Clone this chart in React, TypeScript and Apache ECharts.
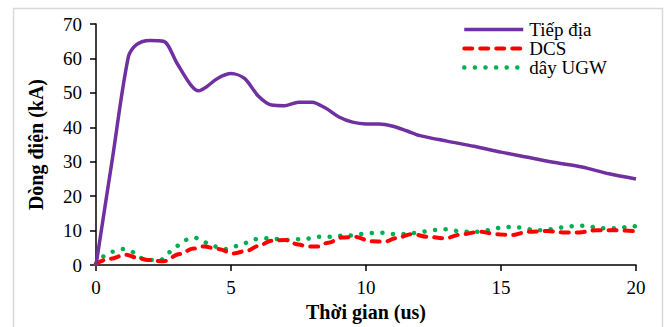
import React, { useEffect, useRef } from "react";
import * as echarts from "echarts";

const seriesNames = ["Tiếp địa", "DCS", "dây UGW"];
const xTicks = { min: 0, max: 20, interval: 5 };
const yTicks = { min: 0, max: 70, interval: 10 };

// [time (us), current (kA)]
const tiepDia: [number, number][] = [
  [0, 0], [0.6, 30.5], [1.2, 60.5], [1.5, 64], [2.0, 65.2], [2.5, 65],
  [3.0, 58.6], [3.5, 52.4], [3.8, 50.6], [4.1, 51.8], [4.5, 54.2], [5.0, 55.6],
  [5.5, 54.2], [6.0, 49.2], [6.5, 46.5], [7.0, 46.3], [7.5, 47.3], [8.0, 47.3],
  [8.5, 45.6], [9.0, 43.0], [9.5, 41.5], [10.0, 41.0], [10.5, 41.0], [11, 40.3],
  [11.5, 39.0], [12, 37.6], [13, 36], [14, 34.5], [15, 32.8], [16, 31.3],
  [17, 29.8], [18, 28.5], [19, 26.5], [20, 25],
];

const dcs: [number, number][] = [
  [0, 0.4], [0.5, 1.8], [1.1, 3.0], [1.5, 2.2], [1.9, 1.5], [2.5, 1.1], [3.1, 3.2],
  [3.6, 4.8], [4.0, 5.4], [4.5, 4.7], [5.1, 3.4], [5.6, 4.2], [6.0, 5.5], [6.5, 7.1],
  [7.0, 7.3], [7.5, 6.0], [7.8, 5.4], [8.2, 5.4], [8.6, 6.5], [9.1, 8.0], [9.6, 8.2],
  [10.2, 6.9], [10.7, 6.8], [11.1, 7.8], [11.7, 9.0], [12.3, 8.2], [12.9, 7.8],
  [13.6, 9.0], [14.2, 9.7], [14.8, 9.0], [15.4, 8.7], [16.0, 9.7], [16.7, 9.9],
  [17.3, 9.5], [17.9, 9.5], [18.5, 10.1], [19.3, 10.1], [20, 9.8],
];

const dayUgw: [number, number][] = [
  [0, 0.4], [0.25, 2.5], [0.6, 3.9], [1.0, 4.7], [1.3, 4.0], [1.6, 2.1], [1.95, 1.5],
  [2.4, 1.5], [2.7, 3.7], [3.0, 5.6], [3.3, 7.3], [3.65, 8.0], [4.0, 6.6], [4.4, 5.4],
  [4.75, 4.6], [5.1, 5.4], [5.5, 6.4], [5.85, 7.5], [6.2, 7.8], [6.7, 7.6], [7.05, 7.3],
  [7.4, 7.5], [7.8, 7.7], [8.2, 8.2], [8.6, 8.2], [9.0, 8.5], [9.45, 8.6], [9.85, 9.0],
  [10.25, 9.3], [10.6, 9.4], [11.0, 9.0], [11.4, 9.0], [11.8, 9.3], [12.2, 9.75],
  [12.6, 10.2], [13.0, 10.4], [13.4, 9.9], [13.8, 9.7], [14.2, 9.7], [14.6, 10.2],
  [15.0, 10.9], [15.4, 11.1], [15.8, 10.9], [16.2, 10.2], [16.6, 10.1], [17.0, 10.6],
  [17.4, 11.1], [17.8, 11.4], [18.2, 11.4], [18.6, 10.7], [19.0, 10.7], [19.4, 10.7],
  [19.8, 11.4], [20, 11.2],
];

const FONT = "'Liberation Serif', 'Times New Roman', serif";

const purpleLine = { color: "#7030A0", width: 3.5 };
const redLine = { color: "#FF0000", width: 4, type: [8, 8], cap: "round" };
const greenLine = { color: "#00B050", width: 4.5, type: [0.1, 10.5], cap: "round" };

export default function App() {
  const ref = useRef<HTMLDivElement>(null);
  useEffect(() => {
    document.body.style.margin = "0";
    if (!ref.current) return;
    const chart = echarts.init(ref.current, null, { renderer: "svg" });
    chart.setOption({
      animation: false,
      backgroundColor: "#ffffff",
      textStyle: { fontFamily: FONT, color: "#000" },
      graphic: [
        {
          type: "rect",
          shape: { x: 13.5, y: 8.5, width: 649, height: 330 },
          style: { fill: "none", stroke: "#d9d9d9", lineWidth: 1.5 },
          silent: true,
          z: -10,
        },
      ],
      grid: { left: 96, right: 34, top: 24, bottom: 59 },
      legend: {
        orient: "vertical",
        left: 462,
        top: 20,
        padding: 0,
        itemGap: 0,
        itemWidth: 59,
        itemHeight: 20,
        itemStyle: { opacity: 0 },
        textStyle: { fontFamily: FONT, fontSize: 19, color: "#000", padding: [0, 0, 0, 1] },
        data: [
          { name: seriesNames[0], lineStyle: purpleLine, itemStyle: { opacity: 0 } },
          { name: seriesNames[1], lineStyle: redLine, itemStyle: { opacity: 0 } },
          { name: seriesNames[2], lineStyle: greenLine, itemStyle: { opacity: 0 } },
        ],
      },
      xAxis: {
        type: "value",
        min: xTicks.min,
        max: xTicks.max,
        interval: xTicks.interval,
        name: "Thời gian (us)",
        nameLocation: "middle",
        nameGap: 31,
        nameTextStyle: { fontFamily: FONT, fontSize: 20, fontWeight: "bold", color: "#000" },
        axisLine: { show: true, onZero: false, lineStyle: { color: "#000", width: 1.5 } },
        axisTick: { show: true, inside: false, length: 6, lineStyle: { color: "#000", width: 1.5 } },
        axisLabel: { fontFamily: FONT, fontSize: 19, color: "#000", margin: 13 },
        splitLine: { show: false },
      },
      yAxis: {
        type: "value",
        min: yTicks.min,
        max: yTicks.max,
        interval: yTicks.interval,
        name: "Dòng điện (kA)",
        nameLocation: "middle",
        nameGap: 50,
        nameTextStyle: { fontFamily: FONT, fontSize: 20, fontWeight: "bold", color: "#000" },
        axisLine: { show: true, lineStyle: { color: "#000", width: 1.5 } },
        axisTick: { show: true, inside: false, length: 6, lineStyle: { color: "#000", width: 1.5 } },
        axisLabel: { fontFamily: FONT, fontSize: 19, color: "#000", margin: 14 },
        splitLine: { show: false },
      },
      series: [
        {
          name: seriesNames[0],
          type: "line",
          data: tiepDia,
          showSymbol: false,
          symbol: "none",
          smooth: 0.3,
          lineStyle: purpleLine,
          itemStyle: { color: "#7030A0" },
          z: 3,
        },
        {
          name: seriesNames[1],
          type: "line",
          data: dcs,
          showSymbol: false,
          symbol: "none",
          smooth: 0.35,
          smoothMonotone: "x",
          lineStyle: redLine,
          itemStyle: { color: "#FF0000" },
          z: 2,
        },
        {
          name: seriesNames[2],
          type: "line",
          data: dayUgw,
          showSymbol: false,
          symbol: "none",
          smooth: 0.35,
          smoothMonotone: "x",
          lineStyle: greenLine,
          itemStyle: { color: "#00B050" },
          z: 1,
        },
      ],
    });
    return () => chart.dispose();
  }, []);
  return <div ref={ref} style={{ width: 670, height: 327 }} />;
}
